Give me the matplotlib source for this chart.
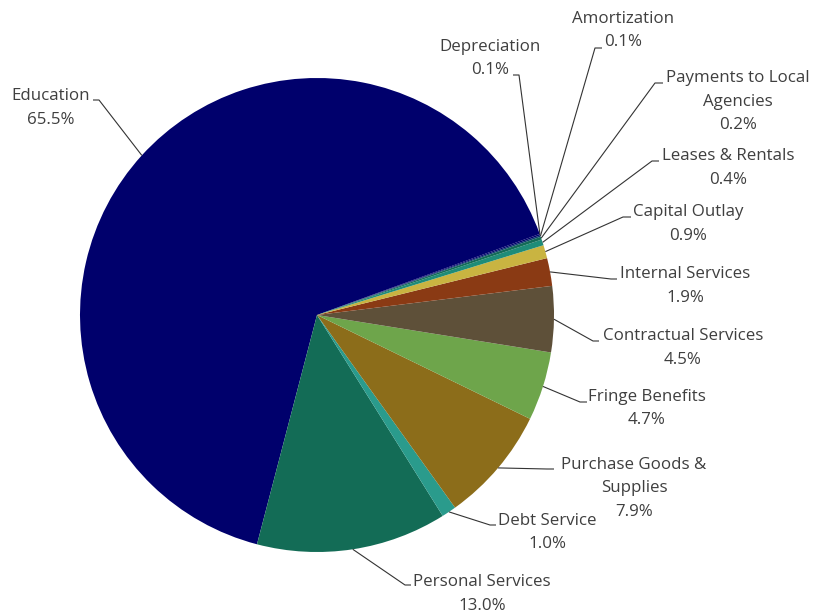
import numpy as np
import matplotlib
matplotlib.use("Agg")
import matplotlib.pyplot as plt

# ---- data ----
categories = ["Education", "Personal Services", "Debt Service", "Purchase Goods & Supplies",
              "Fringe Benefits", "Contractual Services", "Internal Services", "Capital Outlay",
              "Leases & Rentals", "Payments to Local Agencies", "Amortization", "Depreciation"]
values = [65.5, 13.0, 1.0, 7.9, 4.7, 4.5, 1.9, 0.9, 0.4, 0.2, 0.1, 0.1]
label_lines = [["Education"], ["Personal Services"], ["Debt Service"], ["Purchase Goods &", "Supplies"],
               ["Fringe Benefits"], ["Contractual Services"], ["Internal Services"], ["Capital Outlay"],
               ["Leases & Rentals"], ["Payments to Local", "Agencies"], ["Amortization"], ["Depreciation"]]
colors = ["#00006C", "#136C56", "#2A9B8C", "#8C6D1A", "#6EA54B", "#5E5039", "#8A3A14", "#C9B441",
          "#1E8C78", "#136C56", "#0A3D6B", "#00006C"]

# ---- layout (pixels) ----
W, H = 814, 611
CX, CY, R = 317, 315, 237
# text center x, first line center y, elbow (x, y), end (x, y)
layout = {
    "Education": (51, 96, (99, 100), (93, 100)),
    "Personal Services": (482, 582, (405, 585), (411, 585)),
    "Debt Service": (547, 521, (490, 525), (496, 525)),
    "Purchase Goods & Supplies": (634, 465, (547, 469), (554, 469)),
    "Fringe Benefits": (647, 397, (580, 402), (587, 402)),
    "Contractual Services": (683, 336, (593, 341), (599, 341)),
    "Internal Services": (685, 274, (611, 279), (617, 279)),
    "Capital Outlay": (688, 212, (623, 217), (631, 217)),
    "Leases & Rentals": (728, 156, (652, 161), (659, 161)),
    "Payments to Local Agencies": (738, 78, (655, 83), (663, 83)),
    "Amortization": (623, 19, (595, 48), (602, 48)),
    "Depreciation": (490, 47, (519, 75), (513, 75)),
}
LINE_H = 23.5

def px(x, y):
    return (x - CX) / R, (CY - y) / R

plt.rcParams['font.family'] = ['Open Sans', 'DejaVu Sans']
fig = plt.figure(figsize=(W / 100, H / 100), dpi=100)
ax = fig.add_axes([0, 0, 1, 1])

wedges, _ = ax.pie(values, colors=colors, startangle=20, counterclock=True,
                   radius=1, center=(0, 0), wedgeprops=dict(linewidth=0))
ax.set_xlim(-CX / R, (W - CX) / R)
ax.set_ylim(-(H - CY) / R, CY / R)
ax.set_aspect('auto')
ax.axis('off')

for w, cat, val, lines in zip(wedges, categories, values, label_lines):
    mid = np.deg2rad((w.theta1 + w.theta2) / 2)
    p0 = (np.cos(mid), np.sin(mid))
    tx, ty, elbow, end = layout[cat]
    e = px(*elbow)
    en = px(*end)
    ax.plot([p0[0], e[0], en[0]], [p0[1], e[1], en[1]], color="#333333", lw=0.8,
            solid_capstyle='butt', zorder=3)
    all_lines = lines + [f"{val:.1f}%"]
    for i, s in enumerate(all_lines):
        x, y = px(tx, ty + i * LINE_H)
        ax.text(x, y, s, ha='center', va='center', fontsize=12.2, color="#3f3f3f")

fig.savefig("out.png", dpi=100)
